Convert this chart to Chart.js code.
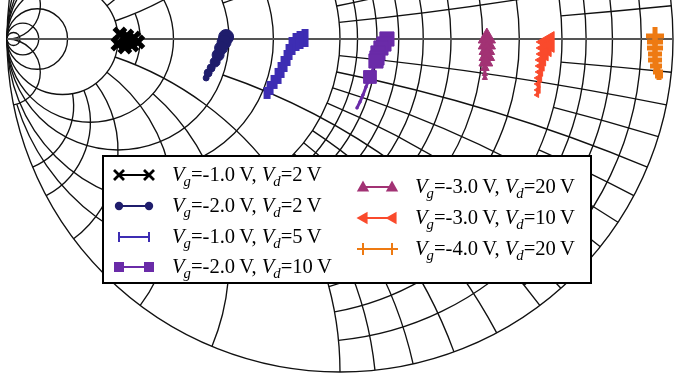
<!DOCTYPE html>
<html>
<head>
<meta charset="utf-8">
<script src="https://cdn.jsdelivr.net/npm/chart.js@4.4.1/dist/chart.umd.min.js"></script>
<style>
html,body{margin:0;padding:0;background:#fff;overflow:hidden}
canvas{display:block}
</style>
</head>
<body>
<canvas id="c" width="676" height="374"></canvas>
<script>
// ---------------- DATA (reflection coefficient, real / imaginary part) ----------------
const vgValues = ['-1.0', '-2.0', '-1.0', '-2.0', '-3.0', '-3.0', '-4.0'];
const vdValues = ['2', '2', '5', '10', '20', '10', '20'];

const vg1vd2Re  = [-0.661, -0.640, -0.619, -0.607, -0.625, -0.646, -0.667, -0.637];
const vg1vd2Im  = [ 0.015,  0.009,  0.003, -0.009, -0.018, -0.024, -0.015, -0.006];

const vg2vd2Re  = [-0.342, -0.348, -0.357, -0.366, -0.375, -0.387, -0.396, -0.402];
const vg2vd2Im  = [ 0.006, -0.009, -0.027, -0.048, -0.069, -0.087, -0.102, -0.117];

const vg1vd5Re  = [-0.105, -0.120, -0.132, -0.144, -0.153, -0.159, -0.168, -0.177, -0.186, -0.198, -0.210, -0.219];
const vg1vd5Im  = [ 0.003, -0.003, -0.009, -0.021, -0.039, -0.057, -0.075, -0.093, -0.111, -0.129, -0.147, -0.162];

const vg2vd10Re = [0.141, 0.132, 0.123, 0.114, 0.111, 0.108, 0.090, 0.078, 0.069, 0.060, 0.051];
const vg2vd10Im = [0.000, -0.015, -0.027, -0.042, -0.057, -0.066, -0.114, -0.144, -0.168, -0.189, -0.207];

const vg3vd20Re = [0.441, 0.441, 0.441, 0.441, 0.438, 0.435, 0.435, 0.435];
const vg3vd20Im = [0.003, -0.015, -0.033, -0.051, -0.069, -0.087, -0.105, -0.117];

const vg3vd10Re = [0.625, 0.619, 0.613, 0.607, 0.604, 0.601, 0.598, 0.595, 0.595, 0.592];
const vg3vd10Im = [-0.009, -0.027, -0.045, -0.063, -0.081, -0.099, -0.117, -0.135, -0.153, -0.168];

const vg4vd20Re = [0.946, 0.946, 0.946, 0.946, 0.946, 0.949, 0.955, 0.958];
const vg4vd20Im = [0.009, -0.009, -0.027, -0.045, -0.063, -0.081, -0.099, -0.111];

// ---------------- STYLE ----------------
const seriesRe = [vg1vd2Re, vg2vd2Re, vg1vd5Re, vg2vd10Re, vg3vd20Re, vg3vd10Re, vg4vd20Re];
const seriesIm = [vg1vd2Im, vg2vd2Im, vg1vd5Im, vg2vd10Im, vg3vd20Im, vg3vd10Im, vg4vd20Im];
const colors = ['#000000', '#1f1d6c', '#3d2db3', '#6a2ba8', '#a23274', '#fa4a2c', '#ee7a12'];
const pStyles = ['crossRot', 'circle', 'line', 'rect', 'triangle', 'triangle', 'cross'];
const pRot = [0, 0, 90, 0, 0, -90, 0];
const pBorder = [5, 1, 7, 1, 1, 1, 5];
const pSizes = [
  [8,8,8,8,8,8,8,8],
  [7.5,7,6.5,6,5,4,4,3],
  [9,9,9,9,8,8,8,8,8,7,7,6],
  [10,10,10,10,10,10,9,1.5,1.5,1.5,1.5],
  [10,10,9,9,8,5,3,3],
  [12,10,8,7,6,5,5,4,4,3],
  [9,8,8,7,7,6,5,4]
];

// Smith chart geometry (admittance grid), scale limits so the unit circle sits at the right place
const xMin = -340 / 333, xMax = 336 / 333, yMin = (39 - 374) / 333, yMax = 39 / 333;
const INF = Infinity;
const gCircles = [
  [0,0,INF],[0.05,0,0.5],[0.1,0,1],[0.15,0,0.5],[0.2,0,1],[0.3,0,1],[0.4,0,1],[0.5,0,10],
  [0.6,0,1],[0.7,0,1],[0.8,0,1],[0.9,0,1],[1,0,INF],[1.5,0,3],[2,0,INF],[3,0,INF],[4,0,1],
  [5,0,INF],[10,0,INF],[20,0,INF],[50,0,INF]
];
const bArcs = [
  [0.05,0,0.2],[0.1,0,1],[0.15,0,0.2],[0.2,0,1],[0.25,0,0.2],[0.3,0,1],[0.35,0,0.2],[0.4,0,1],
  [0.45,0,0.2],[0.5,0,2],[0.6,0,1],[0.7,0,1],[0.8,0,1],[0.9,0,1],[1,0,5],[1.5,0,3],[2,0,5],
  [3,0,5],[4,0,5],[5,0,5],[10,0,INF]
];

function gammaOf(g, b) {
  if (!isFinite(g) || !isFinite(b)) return [-1, 0];
  const nr = 1 - g, ni = -b, dr = 1 + g, di = b;
  const den = dr * dr + di * di;
  return [(nr * dr + ni * di) / den, (ni * dr - nr * di) / den];
}

const smithGrid = {
  id: 'smithGrid',
  beforeDatasetsDraw(chart) {
    const ctx = chart.ctx, xs = chart.scales.x, ys = chart.scales.y;
    const X = v => xs.getPixelForValue(v), Y = v => ys.getPixelForValue(v);
    const R = X(1) - X(0);
    ctx.save();
    ctx.beginPath();
    ctx.rect(0, 0, chart.width, chart.height);
    ctx.clip();
    ctx.strokeStyle = '#111111';
    ctx.lineWidth = 1.35;
    gCircles.forEach(([g, b1, b2]) => {
      const cx = X(-g / (1 + g)), cy = Y(0), r = R / (1 + g);
      if (b1 === 0 && !isFinite(b2)) {
        ctx.beginPath(); ctx.arc(cx, cy, r, 0, Math.PI * 2); ctx.stroke();
        return;
      }
      const p1 = gammaOf(g, b1), p2 = gammaOf(g, b2);
      const a1 = Math.atan2(Y(p1[1]) - cy, X(p1[0]) - cx);
      const a2 = Math.atan2(Y(p2[1]) - cy, X(p2[0]) - cx);
      ctx.beginPath(); ctx.arc(cx, cy, r, a1, a2, false); ctx.stroke();
      ctx.beginPath(); ctx.arc(cx, cy, r, -a2, -a1, false); ctx.stroke();
    });
    bArcs.forEach(([b, g1, g2]) => {
      const r = R / b;
      const cx = X(-1), cyL = Y(-1 / b);
      const pl = gammaOf(g1, b), ph = gammaOf(g2, b);
      const aL = Math.atan2(Y(pl[1]) - cyL, X(pl[0]) - cx);
      const aH = Math.atan2(Y(ph[1]) - cyL, X(ph[0]) - cx);
      ctx.beginPath(); ctx.arc(cx, cyL, r, aH, aL, false); ctx.stroke();
      const cyU = Y(1 / b);
      ctx.beginPath(); ctx.arc(cx, cyU, r, -aL, -aH, false); ctx.stroke();
    });
    ctx.strokeStyle = '#555555';
    ctx.lineWidth = 2;
    ctx.beginPath(); ctx.moveTo(X(-1), Y(0)); ctx.lineTo(X(1), Y(0)); ctx.stroke();
    ctx.restore();
  }
};

function drawMarker(ctx, style, x, y, r, color, rot) {
  ctx.save();
  ctx.translate(x, y);
  ctx.rotate(rot * Math.PI / 180);
  ctx.fillStyle = color; ctx.strokeStyle = color;
  ctx.beginPath();
  if (style === 'crossRot') {
    ctx.lineWidth = 2.8;
    ctx.moveTo(-r, -r); ctx.lineTo(r, r); ctx.moveTo(-r, r); ctx.lineTo(r, -r); ctx.stroke();
  } else if (style === 'cross') {
    ctx.lineWidth = 2;
    ctx.moveTo(-r, 0); ctx.lineTo(r, 0); ctx.moveTo(0, -r); ctx.lineTo(0, r); ctx.stroke();
  } else if (style === 'circle') {
    ctx.arc(0, 0, r, 0, Math.PI * 2); ctx.fill();
  } else if (style === 'line') {
    ctx.lineWidth = 2;
    ctx.moveTo(-r, 0); ctx.lineTo(r, 0); ctx.stroke();
  } else if (style === 'rect') {
    ctx.fillRect(-r, -r, 2 * r, 2 * r);
  } else if (style === 'triangle') {
    ctx.moveTo(0, -r); ctx.lineTo(r * 0.95, r * 0.7); ctx.lineTo(-r * 0.95, r * 0.7); ctx.closePath(); ctx.fill();
  }
  ctx.restore();
}

const legendBox = {
  id: 'legendBox',
  afterDatasetsDraw(chart) {
    const ctx = chart.ctx;
    ctx.save();
    ctx.fillStyle = '#ffffff';
    ctx.fillRect(103, 156, 488, 127);
    ctx.strokeStyle = '#000'; ctx.lineWidth = 2;
    ctx.strokeRect(103, 156, 488, 127);
    const rows = [[119,149,172,175],[119,149,172,206],[119,149,172,237],[119,149,172,267],
                  [363,392,415,187],[363,392,415,218],[363,392,415,249]];
    const mSize = [5, 4.2, 5, 5, 6.5, 6.5, 6];
    chart.data.datasets.forEach((ds, i) => {
      const [x1, x2, tx, y] = rows[i];
      ctx.strokeStyle = colors[i]; ctx.lineWidth = 2;
      ctx.beginPath(); ctx.moveTo(x1, y); ctx.lineTo(x2, y); ctx.stroke();
      drawMarker(ctx, pStyles[i], x1, y, mSize[i], colors[i], pRot[i]);
      drawMarker(ctx, pStyles[i], x2, y, mSize[i], colors[i], pRot[i]);
      const base = y + 6;
      ctx.save();
      ctx.translate(tx, base);
      ctx.scale(0.98, 1);
      ctx.fillStyle = '#000';
      ctx.textBaseline = 'alphabetic';
      let x = 0;
      const part = (txt, font, dy) => { ctx.font = font; ctx.fillText(txt, x, dy); x += ctx.measureText(txt).width; };
      const it = 'italic 21px "Liberation Serif"', rg = '21px "Liberation Serif"', sub = 'italic 15px "Liberation Serif"';
      part('V', it, 0); x -= 1; part('g', sub, 5); part('=' + vgValues[i] + '\u2009V, ', rg, 0);
      part('V', it, 0); x -= 1; part('d', sub, 5); part('=' + vdValues[i] + '\u2009V', rg, 0);
      ctx.restore();
    });
    ctx.restore();
  }
};

const datasets = seriesRe.map((re, i) => ({
  label: 'Vg=' + vgValues[i] + ' V, Vd=' + vdValues[i] + ' V',
  data: re.map((v, k) => ({ x: v, y: seriesIm[i][k] })),
  showLine: true,
  borderColor: colors[i],
  backgroundColor: colors[i],
  borderWidth: 3,
  pointStyle: pStyles[i],
  pointRotation: pRot[i],
  pointBorderWidth: pBorder[i],
  pointRadius: c => pSizes[i][c.dataIndex],
  pointHoverRadius: c => pSizes[i][c.dataIndex],
  clip: false
}));

new Chart(document.getElementById('c'), {
  type: 'scatter',
  data: { datasets },
  options: {
    responsive: false,
    devicePixelRatio: 1,
    animation: false,
    events: [],
    layout: { padding: 0, autoPadding: false },
    plugins: { legend: { display: false }, tooltip: { enabled: false } },
    scales: {
      x: { type: 'linear', min: xMin, max: xMax, display: false },
      y: { type: 'linear', min: yMin, max: yMax, display: false }
    }
  },
  plugins: [smithGrid, legendBox]
});
</script>
</body>
</html>
